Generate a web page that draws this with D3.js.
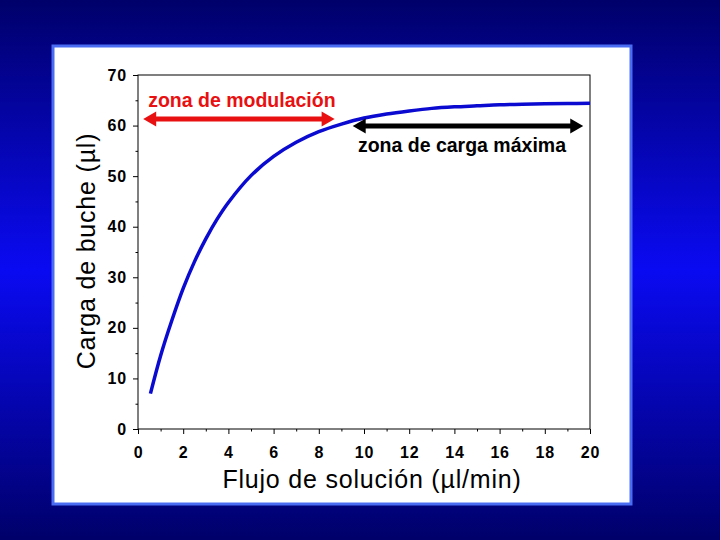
<!DOCTYPE html>
<html><head><meta charset="utf-8">
<script src="https://cdn.jsdelivr.net/npm/d3@7"></script>
<style>html,body{margin:0;padding:0;background:#000080;}svg{display:block;}</style>
</head><body>
<svg id="c" width="720" height="540"></svg>
<script>
const flowX = [0.55, 1, 1.5, 2, 2.5, 3, 3.5, 4, 5, 6, 7, 8, 9, 10, 11, 12, 13, 14, 15, 16, 17, 18, 19, 20];
const loadY = [7.0, 14.5, 21.5, 27.8, 33.1, 37.6, 41.5, 44.8, 50.1, 53.9, 56.7, 58.8, 60.3, 61.5, 62.3, 62.9, 63.4, 63.7, 63.9, 64.1, 64.2, 64.3, 64.35, 64.4];
const xTicks = [0, 2, 4, 6, 8, 10, 12, 14, 16, 18, 20];
const yTicks = [0, 10, 20, 30, 40, 50, 60, 70];
const zoneLabels = ["zona de modulación", "zona de carga máxima"];
const zoneStart = [0.23, 9.5];
const zoneEnd = [8.7, 19.7];
const zoneLevel = [61.3, 59.9];
const xTitle = "Flujo de solución (µl/min)";
const yTitle = "Carga de buche (µl)";

const svg = d3.select("#c");
const defs = svg.append("defs");
const g = defs.append("linearGradient").attr("id","bg").attr("x1",0).attr("y1",0).attr("x2",0).attr("y2",1);
g.append("stop").attr("offset","0").attr("stop-color","#00006a");
g.append("stop").attr("offset","0.5").attr("stop-color","#0a0af2");
g.append("stop").attr("offset","1").attr("stop-color","#00006a");
svg.append("rect").attr("width",720).attr("height",540).attr("fill","url(#bg)");
svg.append("rect").attr("x",53).attr("y",46).attr("width",578).attr("height",458)
  .attr("fill","#ffffff").attr("stroke","#4a6cf2").attr("stroke-width",3);

const x = d3.scaleLinear().domain([0,20]).range([138,590]);
const y = d3.scaleLinear().domain([0,70]).range([429,75]);

const font = "Arial, 'Liberation Sans', sans-serif";

// frame
svg.append("rect").attr("x",x(0)).attr("y",y(70)).attr("width",x(20)-x(0)).attr("height",y(0)-y(70))
  .attr("fill","none").attr("stroke","#000").attr("stroke-width",1);

// minor ticks
const xMinor = d3.range(1,20,2);
svg.append("g").attr("transform",`translate(0,${y(0)})`)
  .call(d3.axisBottom(x).tickValues(xMinor).tickSize(2.5).tickFormat(""))
  .call(s=>s.select(".domain").remove());
const yMinor = d3.range(5,70,10);
svg.append("g").attr("transform",`translate(${x(0)},0)`)
  .call(d3.axisLeft(y).tickValues(yMinor).tickSize(2.5).tickFormat(""))
  .call(s=>s.select(".domain").remove());

const xa = svg.append("g").attr("transform",`translate(0,${y(0)})`)
  .call(d3.axisBottom(x).tickValues(xTicks).tickSize(5).tickPadding(13).tickFormat(d3.format("d")));
xa.select(".domain").remove();
xa.selectAll("text").attr("font-family",font).attr("font-size",16).attr("font-weight","bold").attr("fill","#000").attr("letter-spacing",0.8);
const ya = svg.append("g").attr("transform",`translate(${x(0)},0)`)
  .call(d3.axisLeft(y).tickValues(yTicks).tickSize(5).tickPadding(6).tickFormat(d3.format("d")));
ya.select(".domain").remove();
ya.selectAll("text").attr("font-family",font).attr("font-size",16).attr("font-weight","bold").attr("fill","#000").attr("letter-spacing",0.8);
svg.selectAll(".tick line").attr("stroke","#000");

// curve
const pts = flowX.map((d,i)=>[d, loadY[i]]);
svg.append("path").datum(pts)
  .attr("d", d3.line().x(d=>x(d[0])).y(d=>y(d[1])).curve(d3.curveCatmullRom))
  .attr("fill","none").attr("stroke","#0a0ad0").attr("stroke-width",3.5);

// arrows
const colors = ["#e81010","#000000"];
zoneLabels.forEach((lab,i)=>{
  const x1 = x(zoneStart[i]), x2 = x(zoneEnd[i]), yy = y(zoneLevel[i]);
  const h = 13, hw = 7.5;
  svg.append("line").attr("x1",x1+h-1).attr("x2",x2-h+1).attr("y1",yy).attr("y2",yy)
    .attr("stroke",colors[i]).attr("stroke-width",5);
  svg.append("path").attr("d",`M${x1},${yy} L${x1+h},${yy-hw} L${x1+h},${yy+hw} Z`).attr("fill",colors[i]);
  svg.append("path").attr("d",`M${x2},${yy} L${x2-h},${yy-hw} L${x2-h},${yy+hw} Z`).attr("fill",colors[i]);
});
svg.append("text").attr("x",x(0.45)).attr("y",y(63.6)).text(zoneLabels[0])
  .attr("font-family",font).attr("font-size",19.5).attr("font-weight","bold").attr("fill",colors[0]);
svg.append("text").attr("x",x(9.73)).attr("y",y(54.7)).text(zoneLabels[1])
  .attr("font-family",font).attr("font-size",19.5).attr("font-weight","bold").attr("fill",colors[1]);

// titles
svg.append("text").attr("x",372).attr("y",488).attr("text-anchor","middle").text(xTitle)
  .attr("font-family",font).attr("font-size",25).attr("fill","#000").attr("letter-spacing",0.8);
svg.append("text").attr("transform","translate(95,251) rotate(-90)").attr("text-anchor","middle").text(yTitle)
  .attr("font-family",font).attr("font-size",25).attr("fill","#000").attr("letter-spacing",0.8);
</script>
</body></html>
